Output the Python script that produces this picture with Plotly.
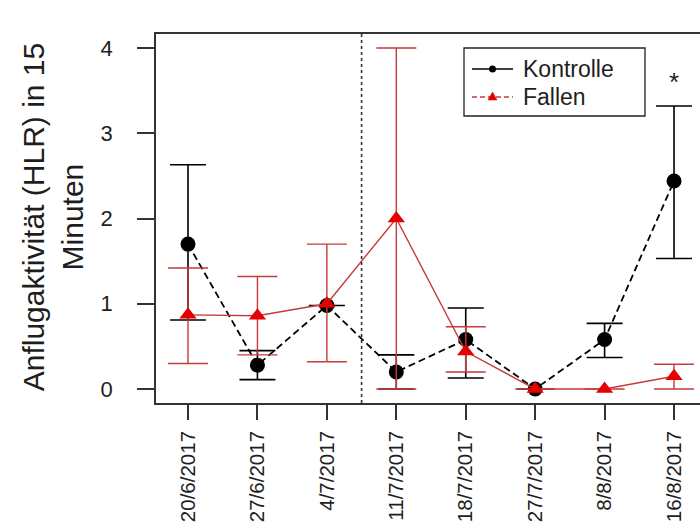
import plotly.graph_objects as go

dates = ["20/6/2017", "27/6/2017", "4/7/2017", "11/7/2017",
         "18/7/2017", "27/7/2017", "8/8/2017", "16/8/2017"]
kontrolle = [1.70, 0.28, 0.98, 0.20, 0.58, 0.00, 0.58, 2.44]
kontrolle_lo = [0.81, 0.11, 0.98, 0.00, 0.13, 0.00, 0.37, 1.53]
kontrolle_hi = [2.63, 0.45, 0.98, 0.40, 0.95, 0.00, 0.77, 3.32]
fallen = [0.87, 0.86, 1.00, 2.00, 0.44, 0.00, 0.00, 0.15]
fallen_lo = [0.30, 0.40, 0.32, 0.00, 0.20, 0.00, 0.00, 0.00]
fallen_hi = [1.42, 1.32, 1.70, 4.00, 0.73, 0.00, 0.00, 0.29]
series_names = ["Kontrolle", "Fallen"]
yticks = [0, 1, 2, 3, 4]
star_date = "16/8/2017"
star_y = 3.6
divider_x = 2.5

FONT = "Liberation Sans, Arial, sans-serif"
TXT = "#1e1e1e"
RED_LINE = "#c43c3c"
RED_MARK = "#e60000"

# plot area in pixels (for placing the legend box in paper coordinates)
L, R, T, B = 156, 700, 34, 403


def px(x):
    return (x - L) / (R - L)


def py(y):
    return (B - y) / (B - T)


fig = go.Figure()

fig.add_trace(go.Scatter(
    x=dates, y=kontrolle, mode="lines+markers", name=series_names[0], showlegend=False,
    line=dict(color="black", width=1.8, dash="7px,4px"),
    marker=dict(symbol="circle", size=15, color="black"),
    error_y=dict(type="data", symmetric=False,
                 array=[h - v for h, v in zip(kontrolle_hi, kontrolle)],
                 arrayminus=[v - l for v, l in zip(kontrolle, kontrolle_lo)],
                 color="black", thickness=1.6, width=18),
))
fig.add_trace(go.Scatter(
    x=dates, y=fallen, mode="lines+markers", name=series_names[1], showlegend=False,
    line=dict(color=RED_LINE, width=1.4),
    marker=dict(symbol="triangle-up", size=15, color=RED_MARK),
    error_y=dict(type="data", symmetric=False,
                 array=[h - v for h, v in zip(fallen_hi, fallen)],
                 arrayminus=[v - l for v, l in zip(fallen, fallen_lo)],
                 color=RED_LINE, thickness=1.4, width=20),
))

# divider between periods
fig.add_shape(type="line", xref="x", yref="paper", x0=divider_x, x1=divider_x,
              y0=0, y1=1, line=dict(color="#333333", width=1.6, dash="dot"))

# legend drawn as in the reference (box, samples, labels)
fig.add_shape(type="rect", xref="paper", yref="paper",
              x0=px(464), x1=px(645), y0=py(116), y1=py(48),
              line=dict(color="#222222", width=1.3), fillcolor="white", layer="above")
rows = [69, 97]
fig.add_shape(type="line", xref="paper", yref="paper", x0=px(472), x1=px(513),
              y0=py(rows[0]), y1=py(rows[0]), line=dict(color="black", width=1.5), layer="above")
fig.add_shape(type="circle", xref="paper", yref="paper", x0=px(489), x1=px(496),
              y0=py(rows[0] + 3.5), y1=py(rows[0] - 3.5),
              fillcolor="black", line=dict(color="black", width=0), layer="above")
fig.add_shape(type="line", xref="paper", yref="paper", x0=px(472), x1=px(513),
              y0=py(rows[1]), y1=py(rows[1]),
              line=dict(color=RED_LINE, width=1.5, dash="5px,3px"), layer="above")
tri = "M {:.5f},{:.5f} L {:.5f},{:.5f} L {:.5f},{:.5f} Z".format(
    px(488), py(rows[1] + 3), px(497), py(rows[1] + 3), px(492.5), py(rows[1] - 5))
fig.add_shape(type="path", xref="paper", yref="paper", path=tri,
              fillcolor=RED_MARK, line=dict(color=RED_MARK, width=0.5), layer="above")
for name, row in zip(series_names, rows):
    fig.add_annotation(xref="paper", yref="paper", x=px(521), y=py(row),
                       text=name, showarrow=False, xanchor="left", yanchor="middle",
                       font=dict(size=23, color=TXT, family=FONT))

fig.add_annotation(x=star_date, y=star_y, text="*", showarrow=False,
                   font=dict(size=26, color=TXT, family=FONT))

fig.add_annotation(xref="paper", yref="paper", x=-0.19, y=0.505,
                   text="Anflugaktivität (HLR) in 15<br>Minuten",
                   textangle=-90, showarrow=False, xanchor="center", yanchor="middle",
                   font=dict(size=30, color=TXT, family=FONT))

fig.update_layout(
    width=700, height=528,
    margin=dict(l=L, r=700 - R, t=T, b=528 - B),
    paper_bgcolor="white", plot_bgcolor="white",
    font=dict(family=FONT, color=TXT),
    showlegend=False,
)
fig.update_xaxes(
    type="category", categoryorder="array", categoryarray=dates,
    range=[-0.461, 7.374], showgrid=False, zeroline=False, automargin=False,
    showline=True, linecolor="#333333", linewidth=1.5, mirror=True,
    ticks="outside", ticklen=15, tickwidth=1.5, tickcolor="#333333",
    tickangle=-90, ticklabelstandoff=3,
    tickfont=dict(size=20.5, family=FONT, color=TXT),
)
fig.update_yaxes(
    range=[-0.164, 4.164], tickvals=yticks, showgrid=False, zeroline=False, automargin=False,
    showline=True, linecolor="#333333", linewidth=1.5,
    ticks="outside", ticklen=17, tickwidth=1.5, tickcolor="#333333",
    ticklabelstandoff=20,
    tickfont=dict(size=22, family=FONT, color=TXT),
)

fig.write_html("out.html")
